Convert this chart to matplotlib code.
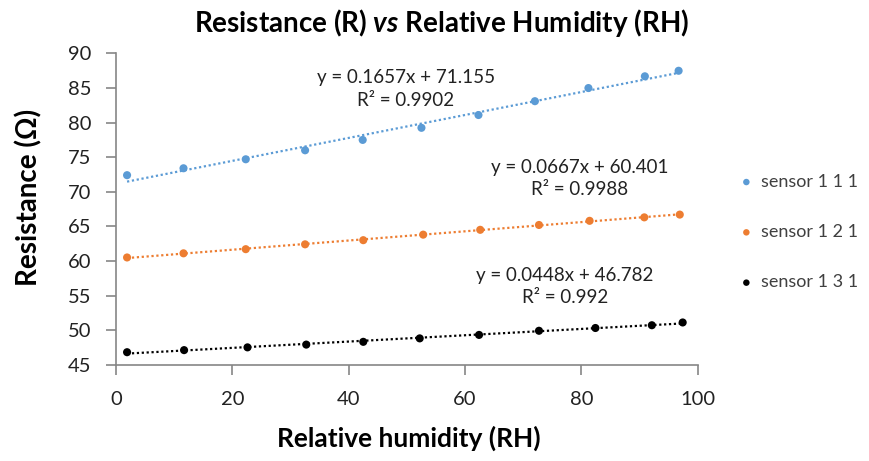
import numpy as np
import matplotlib
matplotlib.use('Agg')
import matplotlib.pyplot as plt

plt.rcParams['font.family'] = ['Lato', 'DejaVu Sans']
plt.rcParams['mathtext.fontset'] = 'custom'
plt.rcParams['mathtext.bfit'] = 'Lato:italic:bold'

rh_111 = [1.9, 11.6, 22.3, 32.5, 42.4, 52.5, 62.3, 72.0, 81.2, 90.9, 96.7]
r_111 = [72.4, 73.4, 74.7, 76.0, 77.5, 79.25, 81.1, 83.1, 85.0, 86.7, 87.5]

rh_121 = [1.9, 11.6, 22.3, 32.5, 42.5, 52.8, 62.6, 72.7, 81.4, 90.8, 96.9]
r_121 = [60.5, 61.1, 61.7, 62.4, 63.0, 63.8, 64.5, 65.2, 65.8, 66.3, 66.7]

rh_131 = [1.9, 11.7, 22.6, 32.7, 42.5, 52.2, 62.4, 72.7, 82.4, 92.1, 97.4]
r_131 = [46.8, 47.1, 47.5, 47.9, 48.3, 48.8, 49.3, 49.9, 50.3, 50.7, 51.1]

labels = ['sensor 1 1 1', 'sensor 1 2 1', 'sensor 1 3 1']
colors = ['#5B9BD5', '#ED7D31', '#000000']
eq_texts = ['y = 0.1657x + 71.155\nR² = 0.9902',
            'y = 0.0667x + 60.401\nR² = 0.9988',
            'y = 0.0448x + 46.782\nR² = 0.992']
eq_pos = [(49.8, 84.9), (79.7, 71.9), (77.2, 56.3)]

fig = plt.figure(figsize=(8.69, 4.61), dpi=100)
ax = fig.add_axes([0.1335, 0.209, 0.803 - 0.1335, 0.884 - 0.209])

series = [(rh_111, r_111), (rh_121, r_121), (rh_131, r_131)]
for (x, y), lab, col, txt, pos in zip(series, labels, colors, eq_texts, eq_pos):
    ax.scatter(x, y, s=34, color=col, label=lab, zorder=3, edgecolors='none')
    # lineare Trendlinie
    k, d = np.polyfit(x, y, 1)
    xx = np.array([min(x), max(x)])
    ax.plot(xx, k * xx + d, linestyle=(0, (1, 1.2)), color=col, lw=1.6, zorder=2)
    ax.text(pos[0], pos[1], txt, ha='center', va='center', fontsize=13.5,
            color='#222222', linespacing=1.4)

ax.set_xlim(0, 100)
ax.set_ylim(45, 90)
ax.set_xticks(range(0, 101, 20))
ax.set_yticks(range(45, 91, 5))
for s in ['top', 'right']:
    ax.spines[s].set_visible(False)
for s in ['left', 'bottom']:
    ax.spines[s].set_color('#868686')
    ax.spines[s].set_linewidth(1.2)
ax.tick_params(axis='both', direction='out', length=7, width=1.2,
               color='#868686', labelsize=14.5, labelcolor='#222222')
ax.tick_params(axis='x', pad=12)
ax.tick_params(axis='y', pad=11)

fig.text(0.508, 0.95, 'Resistance (R) $\\mathbfit{vs}$ Relative Humidity (RH)',
         ha='center', va='center', fontsize=20, fontweight='bold')
fig.text(409 / 869, 1 - 438 / 461, 'Relative humidity (RH)', ha='center', va='center',
         fontsize=19, fontweight='bold')
fig.text(29 / 869, 1 - 197 / 461, 'Resistance (Ω)', ha='center', va='center',
         rotation=90, fontsize=20, fontweight='bold')

leg = ax.legend(loc='center left', bbox_to_anchor=(1.04, 0.426), frameon=False,
                fontsize=13, labelspacing=1.9, handletextpad=0.3,
                markerscale=0.8, handlelength=1.0)
for t in leg.get_texts():
    t.set_color('#404040')

fig.savefig('out.png', dpi=100)
